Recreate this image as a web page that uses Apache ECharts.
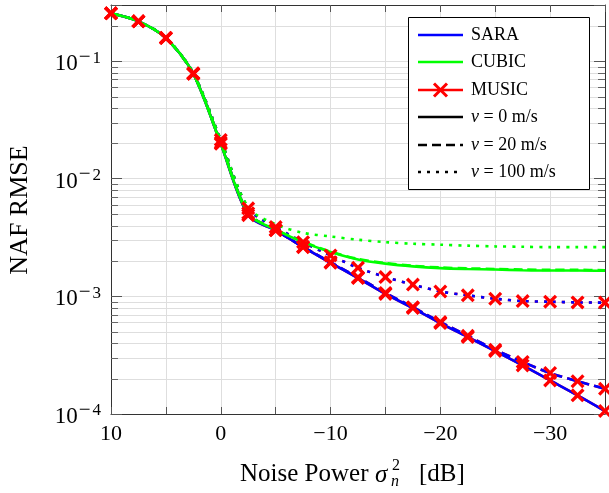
<!DOCTYPE html>
<html><head><meta charset="utf-8">
<script src="https://cdn.jsdelivr.net/npm/echarts@6/dist/echarts.min.js"></script>
<style>html,body{margin:0;padding:0;background:#fff}#c{width:609px;height:493px}</style>
</head><body><div id="c"></div>
<script>
// Noise power (x, dB)
const noisePower = [10, 7.5, 5, 2.5, 0, -2.5, -5, -7.5, -10, -12.5, -15, -17.5, -20, -22.5, -25, -27.5, -30, -32.5, -35];
// SARA
const sara_v0   = [0.255, 0.218, 0.157, 0.078, 0.0198, 0.0049, 0.00364, 0.00262, 0.00193, 0.00143, 0.00105, 0.000796, 0.000593, 0.000451, 0.000343, 0.000259, 0.000193, 0.000144, 0.000106];
const sara_v20  = [0.255, 0.218, 0.157, 0.078, 0.0203, 0.0051, 0.00366, 0.00264, 0.00195, 0.00145, 0.00107, 0.00081, 0.000605, 0.000462, 0.000352, 0.000277, 0.000223, 0.00019, 0.000164];
const sara_v100 = [0.255, 0.218, 0.158, 0.079, 0.0214, 0.0056, 0.00388, 0.00289, 0.00223, 0.00175, 0.00146, 0.00126, 0.0011, 0.00102, 0.000955, 0.000912, 0.000901, 0.000888, 0.000885];
// CUBIC
const cubic_v0   = [0.255, 0.218, 0.157, 0.078, 0.0198, 0.0050, 0.0037, 0.00289, 0.00238, 0.00206, 0.0019, 0.0018, 0.00174, 0.00171, 0.00169, 0.00167, 0.00166, 0.00166, 0.00165];
const cubic_v20  = [0.255, 0.218, 0.157, 0.078, 0.0203, 0.0051, 0.00372, 0.00291, 0.0024, 0.00208, 0.00192, 0.00182, 0.00176, 0.00173, 0.00171, 0.00169, 0.00168, 0.00168, 0.00167];
const cubic_v100 = [0.255, 0.218, 0.158, 0.079, 0.0214, 0.0057, 0.0041, 0.00347, 0.00323, 0.00303, 0.00289, 0.0028, 0.00275, 0.0027, 0.00266, 0.00264, 0.00262, 0.00262, 0.00262];
// MUSIC
const music_v0   = [0.255, 0.218, 0.157, 0.078, 0.0198, 0.0049, 0.00364, 0.00262, 0.00193, 0.00143, 0.00105, 0.000796, 0.000593, 0.000451, 0.000343, 0.000259, 0.000193, 0.000144, 0.000106];
const music_v20  = [0.255, 0.218, 0.157, 0.078, 0.0203, 0.0051, 0.00366, 0.00264, 0.00195, 0.00145, 0.00107, 0.00081, 0.000605, 0.000462, 0.000352, 0.000277, 0.000223, 0.00019, 0.000164];
const music_v100 = [0.255, 0.218, 0.158, 0.079, 0.0214, 0.0056, 0.00388, 0.00289, 0.00223, 0.00175, 0.00146, 0.00126, 0.0011, 0.00102, 0.000955, 0.000912, 0.000901, 0.000888, 0.000885];
// minor log grid values
const minorY = [2e-4,3e-4,4e-4,5e-4,6e-4,7e-4,8e-4,9e-4, 2e-3,3e-3,4e-3,5e-3,6e-3,7e-3,8e-3,9e-3, 2e-2,3e-2,4e-2,5e-2,6e-2,7e-2,8e-2,9e-2, 0.2];
const legendLabels = ['SARA', 'CUBIC', 'MUSIC', '{i|ν} = 0 m/s', '{i|ν} = 20 m/s', '{i|ν} = 100 m/s'];

const FONT = '"Liberation Serif", "Times New Roman", serif';
const LW = 2.6;
const DASH = [9, 5];
const DOT = [3, 6];
const XPATH = 'path://M0,2 L2,0 L6,4 L10,0 L12,2 L8,6 L12,10 L10,12 L6,8 L2,12 L0,10 L4,6 Z';

const pairs = arr => noisePower.map((x, i) => [x, arr[i]]);
function lineSeries(name, arr, color, type, z) {
  return { name, type: 'line', data: pairs(arr), showSymbol: false, smooth: 0.3, z,
    lineStyle: { color, width: LW, type }, silent: true, animation: false };
}
function markerSeries(name, arr) {
  return { name, type: 'scatter', data: pairs(arr), symbol: XPATH, symbolSize: 14, z: 5, clip: false,
    silent: true, itemStyle: { color: '#ff0000', opacity: 1 } };
}

const chart = echarts.init(document.getElementById('c'), null, { renderer: 'canvas' });

const legendYs = [35, 62, 90, 117, 145, 172];
const legendStyles = [
  { c: '#0000ff', d: null }, { c: '#00ff00', d: null }, { c: '#ff0000', d: null },
  { c: '#000', d: null }, { c: '#000', d: DASH }, { c: '#000', d: DOT }
];
const graphic = [
  { type: 'rect', z: 100, shape: { x: 408.5, y: 17.5, width: 181, height: 172 },
    style: { fill: '#fff', stroke: '#000', lineWidth: 1 } }
];
legendYs.forEach((y, i) => {
  graphic.push({ type: 'line', z: 101, shape: { x1: 418, y1: y, x2: 463, y2: y },
    style: { stroke: legendStyles[i].c, lineWidth: LW, lineDash: legendStyles[i].d } });
  graphic.push({ type: 'text', z: 101, x: 471, y: y,
    style: { text: legendLabels[i], font: '18px ' + FONT, fill: '#000', verticalAlign: 'middle',
      rich: { i: { fontStyle: 'italic', fontSize: 18, fontFamily: FONT } } } });
});
graphic.push({ type: 'line', z: 102, shape: { x1: 434, y1: 83.5, x2: 447, y2: 96.5 }, style: { stroke: '#ff0000', lineWidth: 3 } });
graphic.push({ type: 'line', z: 102, shape: { x1: 434, y1: 96.5, x2: 447, y2: 83.5 }, style: { stroke: '#ff0000', lineWidth: 3 } });
// axis titles
graphic.push({ type: 'text', x: 20, y: 210, rotation: Math.PI / 2,
  style: { text: 'NAF RMSE', font: '26px ' + FONT, fill: '#000', align: 'center', verticalAlign: 'middle' } });
graphic.push({ type: 'text', x: 240, y: 474, style: { text: 'Noise Power', font: '25px ' + FONT, fill: '#000', verticalAlign: 'middle' } });
graphic.push({ type: 'text', x: 375, y: 475, style: { text: 'σ', font: 'italic 25px ' + FONT, fill: '#000', verticalAlign: 'middle' } });
graphic.push({ type: 'text', x: 392, y: 466, style: { text: '2', font: '16px ' + FONT, fill: '#000', verticalAlign: 'middle' } });
graphic.push({ type: 'text', x: 391, y: 482, style: { text: 'n', font: 'italic 16px ' + FONT, fill: '#000', verticalAlign: 'middle' } });
graphic.push({ type: 'text', x: 419, y: 474, style: { text: '[dB]', font: '25px ' + FONT, fill: '#000', verticalAlign: 'middle' } });

const axisLineStyle = { color: '#333', width: 1 };
const option = {
  animation: false,
  backgroundColor: '#fff',
  grid: { left: 111, top: 5, right: 4, bottom: 79, containLabel: false },
  xAxis: [
    { type: 'value', min: -35, max: 10, interval: 5, inverse: true,
      axisLine: { show: true, onZero: false, lineStyle: axisLineStyle },
      axisTick: { show: true, inside: true, length: 7, lineStyle: { color: '#555' } },
      axisLabel: { fontFamily: FONT, fontSize: 22, color: '#000', margin: 9,
        formatter: v => (v % 10 === 0 ? (v < 0 ? '−' + Math.abs(v) : String(v)) : '') },
      splitLine: { show: true, lineStyle: { color: '#dedede', width: 1 } } },
    { type: 'value', position: 'top', min: -35, max: 10, interval: 5, inverse: true,
      axisLine: { show: true, onZero: false, lineStyle: axisLineStyle },
      axisTick: { show: true, inside: true, length: 7, lineStyle: { color: '#555' } },
      axisLabel: { show: false }, splitLine: { show: false } }
  ],
  yAxis: [
    { type: 'log', logBase: 10, min: 1e-4, max: 0.3, position: 'left',
      axisLine: { show: true, onZero: false, lineStyle: axisLineStyle },
      axisTick: { show: true, inside: true, length: 11, lineStyle: { color: '#555' } },
      axisLabel: { color: '#000', margin: 10,
        formatter: v => {
          const l = Math.log10(v); const e = Math.round(l);
          if (Math.abs(l - e) > 1e-6) return '';
          return '{b|10}' + (e < 0 ? '{m|−}' : '') + '{s|' + Math.abs(e) + '}';
        },
        rich: { b: { fontFamily: FONT, fontSize: 23, color: '#000', verticalAlign: 'bottom' },
                m: { fontFamily: FONT, fontSize: 21, color: '#000', verticalAlign: 'bottom', padding: [0, 2, 8, 1] },
                s: { fontFamily: FONT, fontSize: 17, color: '#000', verticalAlign: 'bottom', padding: [0, 0, 9, 0] } } },
      splitLine: { show: true, lineStyle: { color: '#dedede', width: 1 } } },
    { type: 'log', logBase: 10, min: 1e-4, max: 0.3, position: 'right',
      axisLine: { show: true, onZero: false, lineStyle: axisLineStyle },
      axisTick: { show: true, inside: true, length: 11, lineStyle: { color: '#555' } },
      axisLabel: { show: false }, splitLine: { show: false } }
  ],
  series: [
    { type: 'custom', silent: true, z: 1, data: minorY.map(v => [0, v]), clip: false,
      renderItem: (params, api) => {
        const cs = params.coordSys;
        const y = Math.round(api.coord([0, api.value(1)])[1]) + 0.5;
        return { type: 'group', children: [
          { type: 'line', shape: { x1: cs.x, y1: y, x2: cs.x + cs.width, y2: y }, style: { stroke: '#dedede', lineWidth: 1 } },
          { type: 'line', shape: { x1: cs.x, y1: y, x2: cs.x + 7, y2: y }, style: { stroke: '#666', lineWidth: 1 } },
          { type: 'line', shape: { x1: cs.x + cs.width - 7, y1: y, x2: cs.x + cs.width, y2: y }, style: { stroke: '#666', lineWidth: 1 } }
        ] };
      } },
    lineSeries('MUSIC ν=0', music_v0, '#ff0000', 'solid', 2),
    lineSeries('MUSIC ν=20', music_v20, '#ff0000', DASH, 2),
    lineSeries('MUSIC ν=100', music_v100, '#ff0000', DOT, 2),
    lineSeries('SARA ν=0', sara_v0, '#0000ff', 'solid', 3),
    lineSeries('SARA ν=20', sara_v20, '#0000ff', DASH, 3),
    lineSeries('SARA ν=100', sara_v100, '#0000ff', DOT, 3),
    lineSeries('CUBIC ν=0', cubic_v0, '#00ff00', 'solid', 4),
    lineSeries('CUBIC ν=20', cubic_v20, '#00ff00', DASH, 4),
    lineSeries('CUBIC ν=100', cubic_v100, '#00ff00', DOT, 4),
    markerSeries('MUSIC ν=0 markers', music_v0),
    markerSeries('MUSIC ν=20 markers', music_v20),
    markerSeries('MUSIC ν=100 markers', music_v100)
  ],
  graphic
};
chart.setOption(option);
</script>
</body></html>
